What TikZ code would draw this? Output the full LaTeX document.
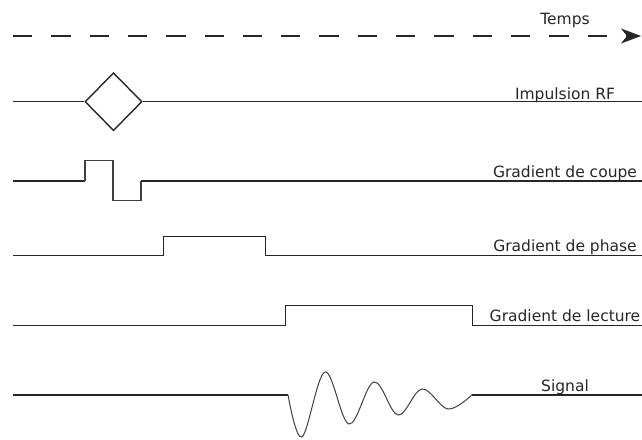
\documentclass[tikz,border=0pt]{standalone}
\usepackage{fontspec}
\setmainfont{DejaVu Sans}
\usetikzlibrary{arrows.meta,shapes.geometric}
\begin{document}
\begin{tikzpicture}[x=1pt,y=-1pt,
  trace/.style={line width=1.4pt, black!85},
  pulse/.style={line width=1.2pt, black!75},
  wave/.style={line width=1pt, black!75},
  lbl/.style={font=\fontsize{15.5}{18}\selectfont, anchor=base, inner sep=0pt, text=black!85},
]
\useasboundingbox (0,0) rectangle (642,439);
% time axis
\coordinate (t0) at (13,36);
\coordinate (t1) at (641,36);
\draw[line width=1.4pt, black!85, dash pattern=on 19.3pt off 19pt,
  -{Stealth[length=20pt,width=15pt,inset=6pt]}] (t0) -- (t1);
\node[lbl] (temps) at (565,24.3) {Temps};
% RF pulse
\coordinate (rf0) at (13,101.7);
\coordinate (rf1) at (642,101.7);
\node[draw, trace, diamond, aspect=1, inner sep=0pt, minimum width=57pt, minimum height=58pt] (rf) at (113.5,101.7) {};
\draw[trace] (rf0) -- (rf.west);
\draw[trace] (rf.east) -- (rf1);
\node[lbl] (lrf) at (565,99) {Impulsion RF};
% slice gradient
\coordinate (c0) at (13,181);
\coordinate (c1) at (642,181);
\draw[trace] (c0) -- (85,181);
\draw[pulse] (85,181) -- (85,160.7) -- (113,160.7) -- (113,200.7) -- (141,200.7) -- (141,181);
\draw[trace] (141,181) -- (c1);
\node[lbl] (lc) at (565,177.5) {Gradient de coupe};
% phase gradient
\coordinate (p0) at (13,255.5);
\coordinate (p1) at (642,255.5);
\draw[trace] (p0) -- (163.3,255.5) -- (163.3,236.3) -- (265.7,236.3) -- (265.7,255.5) -- (p1);
\node[lbl] (lp) at (565,251) {Gradient de phase};
% readout gradient
\coordinate (r0) at (13,325.3);
\coordinate (r1) at (642,325.3);
\draw[trace] (r0) -- (285.7,325.3) -- (285.7,305.7) -- (472.3,305.7) -- (472.3,325.3) -- (r1);
\node[lbl] (lr) at (565,321.3) {Gradient de lecture};
% signal
\coordinate (s0) at (13,394.8);
\coordinate (s1) at (642,394.8);
\coordinate (sa) at (288,394.8);
\coordinate (sb) at (472,394.8);
\draw[trace] (s0) -- (sa);
\draw[wave] plot[smooth, tension=0.6] coordinates {(288,394.8) (302,437) (325,372) (349,424) (374,382) (398,415) (422,389) (448,409) (472,394.8)};
\draw[trace] (sb) -- (s1);
\node[lbl] (ls) at (565,391) {Signal};
\end{tikzpicture}
\end{document}
